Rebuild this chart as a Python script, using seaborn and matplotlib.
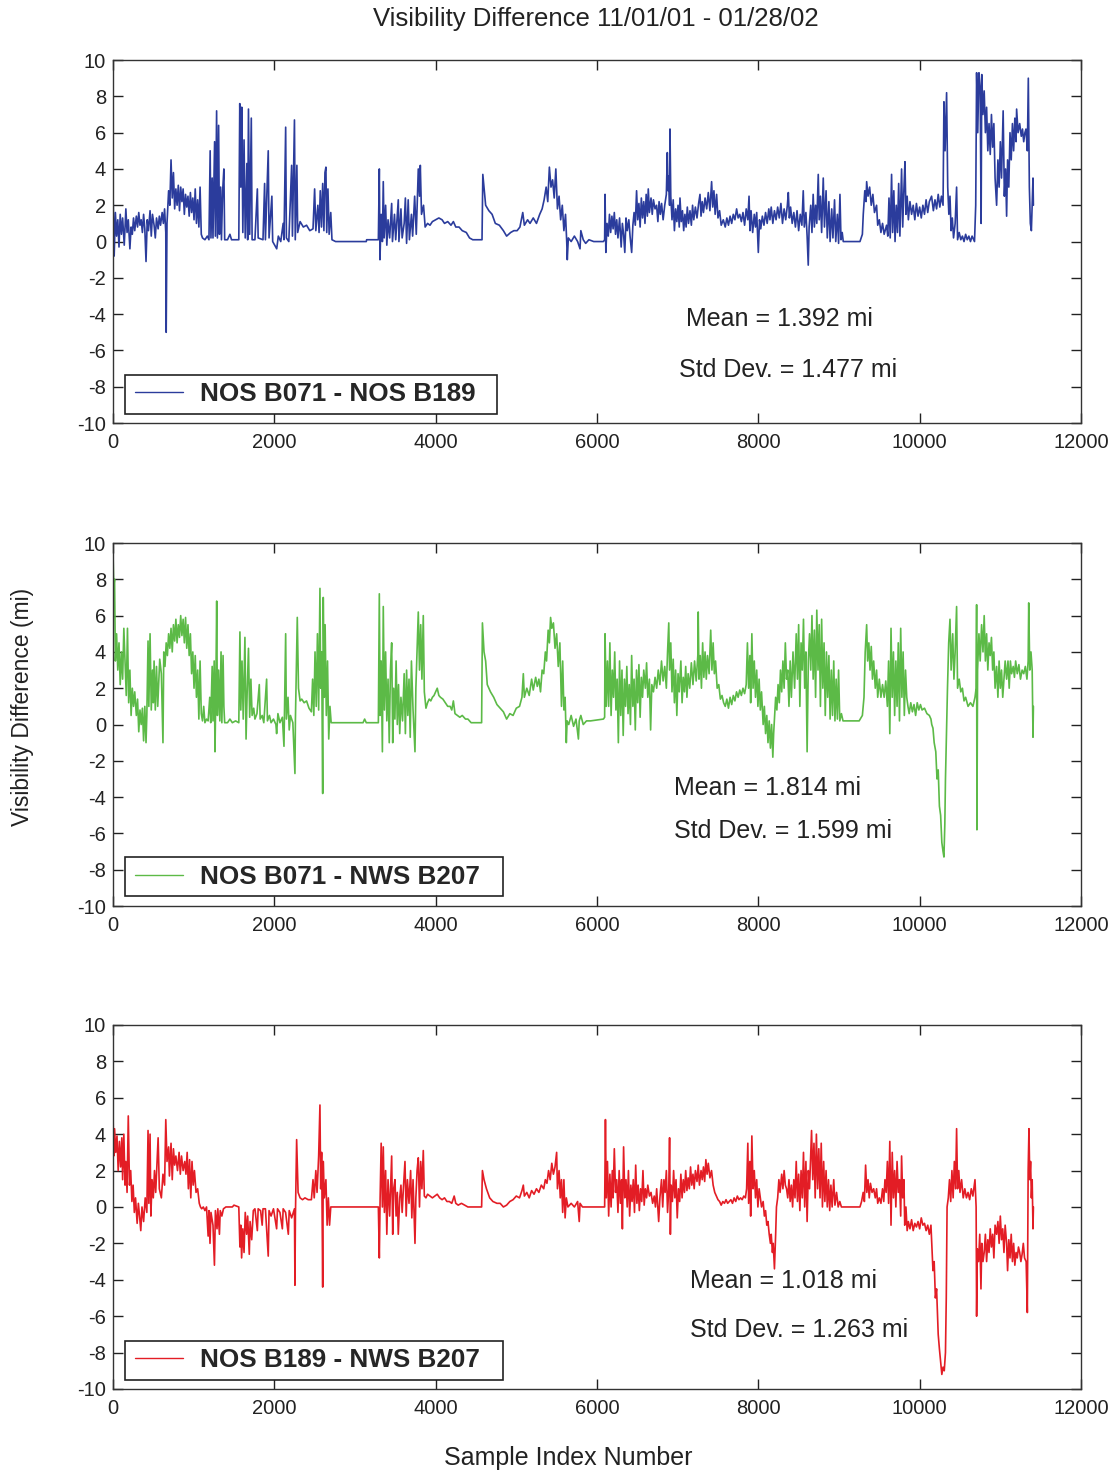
import matplotlib
matplotlib.use("Agg")
import matplotlib.pyplot as plt
from matplotlib.patches import Rectangle
import pandas as pd
import seaborn as sns

# ---- data: (sample index, visibility difference in miles) ----
b071_b189 = [
    (0, 3.0), (15, -0.8), (30, 1.6), (45, 0.3), (60, 1.2), (75, -0.3), (90, 1.5), (105, 0.4), (120, 1.3),
    (140, -0.2), (160, 1.8), (175, 0.5), (190, 1.2), (210, -0.4), (225, 0.8), (240, 0.4), (255, 1.3),
    (270, 0.6), (290, 1.4), (305, 0.8), (320, 1.6), (335, 0.9), (350, 1.2), (365, 0.5), (380, 1.5),
    (395, 0.7), (410, -1.1), (425, 1.2), (440, 0.6), (460, 1.7), (475, 0.3), (490, 1.5), (510, 0.9),
    (525, 0.2), (540, 1.3), (560, 0.7), (575, 1.4), (590, 0.9), (610, 1.6), (625, 1.0), (640, 1.8),
    (655, 0.5), (660, -5.0), (670, 1.0), (690, 2.8), (705, 2.0), (720, 4.5), (735, 2.4), (750, 3.8),
    (765, 1.8), (780, 2.9), (795, 2.0), (810, 3.1), (825, 1.7), (840, 3.0), (855, 2.2), (870, 2.9),
    (885, 1.5), (900, 2.6), (915, 1.9), (930, 2.5), (945, 1.4), (960, 2.7), (975, 1.6), (990, 2.4),
    (1005, 1.2), (1020, 2.9), (1035, 1.0), (1050, 2.3), (1065, 0.8), (1080, 3.0), (1095, 0.4),
    (1110, 0.2), (1140, 0.1), (1170, 0.3), (1190, 0.1), (1205, 5.0), (1215, 0.2), (1230, 3.5),
    (1240, 0.2), (1260, 5.5), (1270, 0.3), (1285, 7.2), (1295, 0.2), (1310, 6.4), (1320, 0.4),
    (1335, 3.0), (1345, 0.1), (1360, 2.8), (1375, 4.0), (1385, 0.1), (1420, 0.1), (1450, 0.4),
    (1470, 0.1), (1560, 0.1), (1572, 7.6), (1585, 3.0), (1597, 7.4), (1610, 0.5), (1625, 5.6),
    (1640, 0.2), (1660, 4.3), (1670, 0.1), (1680, 7.3), (1695, 0.4), (1715, 6.8), (1725, 0.1),
    (1760, 0.1), (1790, 2.9), (1800, 0.2), (1860, 0.1), (1880, 3.2), (1890, 0.1), (1925, 5.0),
    (1935, 0.2), (1970, 2.5), (1980, 0.0), (2030, -0.4), (2050, 0.3), (2080, 0.0), (2110, 1.0),
    (2120, 0.1), (2141, 6.3), (2150, 0.2), (2180, 0.0), (2215, 4.2), (2225, 0.3), (2250, 6.7),
    (2260, 0.1), (2280, 4.2), (2290, 0.5), (2320, 1.1), (2360, 0.8), (2400, 0.9), (2440, 0.6),
    (2480, 0.7), (2500, 2.9), (2515, 0.6), (2540, 2.0), (2555, 0.5), (2570, 2.8), (2585, 0.8),
    (2600, 3.2), (2615, 0.6), (2628, 3.8), (2640, 4.1), (2650, 0.5), (2665, 2.9), (2680, 0.4),
    (2700, 1.6), (2715, 0.1), (2760, 0.0), (3140, 0.0), (3145, 0.1), (3290, 0.1), (3302, 4.0),
    (3310, -1.0), (3325, 1.5), (3340, 0.0), (3351, 3.3), (3362, 0.2), (3380, 2.0), (3395, -0.2),
    (3410, 1.2), (3430, 0.2), (3455, 2.1), (3465, 0.0), (3490, 1.5), (3505, 0.1), (3537, 2.3),
    (3545, 0.0), (3570, 1.8), (3585, 0.2), (3610, 1.0), (3625, 2.4), (3640, -0.1), (3660, 2.3),
    (3675, 0.1), (3700, 1.5), (3715, 0.3), (3740, 2.5), (3760, 0.4), (3785, 4.0), (3800, 2.5),
    (3810, 4.2), (3825, 1.5), (3850, 2.0), (3870, 0.8), (3900, 1.0), (3930, 0.9), (3960, 1.1),
    (4000, 1.2), (4040, 1.3), (4080, 1.2), (4110, 1.0), (4150, 1.1), (4190, 0.9), (4220, 1.1),
    (4250, 0.8), (4290, 0.8), (4330, 0.6), (4380, 0.5), (4420, 0.2), (4460, 0.1), (4575, 0.1),
    (4585, 3.7), (4620, 2.0), (4660, 1.7), (4700, 1.5), (4740, 1.0), (4790, 0.9), (4840, 0.6),
    (4880, 0.3), (4930, 0.5), (4970, 0.6), (5010, 0.6), (5045, 0.8), (5080, 1.6), (5100, 0.9),
    (5140, 1.2), (5170, 1.0), (5210, 1.3), (5250, 1.0), (5290, 1.5), (5320, 1.8), (5345, 2.3),
    (5370, 3.0), (5390, 2.2), (5410, 4.1), (5430, 3.0), (5450, 3.4), (5470, 2.4), (5490, 4.0),
    (5510, 1.8), (5530, 2.5), (5550, 1.2), (5570, 2.0), (5590, 0.6), (5610, 1.5), (5625, 0.0),
    (5632, -1.0), (5645, 0.2), (5680, 0.0), (5720, 0.3), (5760, 0.0), (5790, -0.4), (5800, 0.6),
    (5830, 0.1), (5860, -0.1), (5900, 0.1), (5960, 0.0), (6080, 0.0),
    (6095, 0.1), (6100, 2.6), (6110, -0.6), (6125, 1.0), (6140, 0.3), (6155, 1.5), (6170, 0.5),
    (6185, 1.4), (6200, 0.7), (6215, 1.6), (6230, 0.4), (6245, 1.2), (6260, 0.2), (6280, 1.3),
    (6300, -0.3), (6315, 1.0), (6330, 0.4), (6345, -0.6), (6360, 1.3), (6375, 0.6), (6395, 1.2),
    (6410, 0.3), (6430, -0.6), (6445, 0.9), (6460, 1.6), (6475, 0.9), (6491, 2.8), (6505, 1.2),
    (6520, 2.1), (6535, 0.8), (6550, 2.4), (6565, 1.3), (6580, 2.2), (6595, 1.0), (6610, 2.6),
    (6625, 1.4), (6636, 2.9), (6650, 1.6), (6670, 2.4), (6685, 1.5), (6700, 2.3), (6720, 1.8),
    (6739, 2.0), (6755, 1.1), (6770, 2.2), (6785, 1.5), (6801, 2.1), (6820, 1.2), (6840, 2.0),
    (6860, 2.6), (6872, 4.9), (6880, 2.8), (6890, 3.6), (6900, 2.0), (6905, 6.2), (6915, 2.5),
    (6930, 1.2), (6945, 2.3), (6960, 0.6), (6975, 1.8), (6990, 1.1), (7005, 2.0), (7020, 0.8),
    (7029, 2.4), (7045, 1.1), (7060, 1.7), (7075, 0.6), (7090, 1.5), (7105, 0.8), (7120, 1.9),
    (7135, 1.0), (7153, 1.7), (7170, 0.9), (7185, 2.0), (7200, 1.2), (7220, 1.9), (7240, 1.3),
    (7260, 2.1), (7277, 2.6), (7290, 1.4), (7305, 2.2), (7320, 1.6), (7340, 2.4), (7360, 1.8),
    (7380, 2.7), (7400, 1.7), (7421, 3.3), (7435, 1.9), (7450, 2.8), (7465, 1.5), (7483, 2.6),
    (7500, 1.3), (7520, 1.7), (7540, 0.9), (7566, 1.2), (7590, 0.8), (7610, 1.3), (7630, 0.9),
    (7650, 1.4), (7670, 1.0), (7690, 1.5), (7710, 1.2), (7731, 1.8), (7750, 1.3), (7770, 1.5),
    (7790, 1.1), (7810, 1.6), (7830, 0.9), (7850, 1.8), (7870, 1.2), (7885, 2.5), (7896, 0.6),
    (7910, 1.7), (7930, 0.5), (7950, 1.5), (7965, 0.8), (7980, 1.6), (8000, -0.6), (8015, 1.2),
    (8030, 0.7), (8050, 1.4), (8070, 0.9), (8090, 1.6), (8110, 1.0), (8130, 1.8), (8144, 1.2),
    (8160, 1.9), (8180, 1.0), (8200, 1.7), (8220, 1.2), (8240, 1.9), (8260, 1.3), (8280, 2.1),
    (8300, 1.0), (8320, 1.8), (8340, 1.2), (8360, 2.0), (8372, 2.7), (8385, 1.3), (8400, 1.9),
    (8420, 1.0), (8440, 1.6), (8460, 0.8), (8480, 1.7), (8500, 0.6), (8520, 1.5), (8540, 0.9),
    (8557, 2.8), (8570, 0.8), (8590, 1.6), (8605, 0.3), (8619, -1.3), (8630, 0.8), (8650, 2.0),
    (8665, 0.5), (8680, 2.6), (8695, 0.8), (8710, 2.0), (8725, 1.0), (8743, 3.7), (8755, 1.2),
    (8770, 2.5), (8785, 0.5), (8805, 3.5), (8820, 0.8), (8840, 2.8), (8855, 0.2), (8875, 2.2),
    (8890, 0.0), (8910, 1.8), (8925, 0.2), (8945, 2.3), (8960, 0.0), (8980, 1.5), (8995, -0.1),
    (9012, 2.6), (9025, 0.1), (9040, 0.5), (9053, 0.0), (9260, 0.0), (9290, 0.4), (9301, 1.5),
    (9320, 2.8), (9335, 2.2), (9343, 3.3), (9360, 2.5), (9380, 3.0), (9400, 2.0), (9420, 2.6),
    (9440, 1.6), (9466, 2.0), (9480, 0.9), (9500, 1.2), (9520, 0.5), (9540, 1.0), (9560, 0.4),
    (9590, 0.9), (9605, 0.3), (9620, 2.4), (9635, 0.2), (9652, 3.7), (9665, 0.5), (9680, 2.8),
    (9695, 0.0), (9710, 2.0), (9725, 0.5), (9740, 3.2), (9755, 0.3), (9776, 4.0), (9790, 0.8),
    (9805, 2.9), (9818, 4.4), (9830, 1.5), (9845, 2.5), (9860, 1.2), (9880, 2.2), (9900, 1.5),
    (9920, 2.0), (9940, 1.2), (9960, 2.1), (9980, 1.4), (10000, 1.9), (10020, 1.3), (10040, 2.0),
    (10060, 1.5), (10080, 2.3), (10100, 1.6), (10120, 2.2), (10148, 2.5), (10170, 1.7),
    (10190, 2.3), (10210, 1.8), (10230, 2.6), (10250, 1.9), (10270, 2.5), (10290, 2.0),
    (10301, 7.7), (10315, 5.0), (10334, 8.2), (10348, 3.0), (10362, 1.5), (10376, 2.5),
    (10390, 0.6), (10405, 1.3), (10420, 0.2), (10440, 1.0), (10458, 3.0), (10470, 0.1),
    (10490, 0.5), (10510, 0.1), (10530, 0.3), (10550, 0.0), (10570, 0.4), (10590, 0.1),
    (10610, 0.3), (10630, 0.0), (10650, 0.3), (10680, 0.0), (10695, 2.0), (10706, 9.3),
    (10720, 6.0), (10735, 9.3), (10750, 8.5), (10762, 1.0), (10770, 9.2), (10785, 7.0),
    (10800, 8.3), (10815, 6.0), (10830, 7.4), (10845, 5.0), (10860, 6.5), (10875, 4.8),
    (10890, 7.0), (10905, 5.2), (10920, 6.5), (10935, 3.5), (10954, 2.0), (10970, 4.5),
    (10985, 3.0), (11000, 5.5), (11015, 3.5), (11035, 7.2), (11050, 2.5), (11065, 4.0),
    (11078, 1.4), (11090, 4.5), (11105, 3.0), (11120, 6.0), (11135, 4.5), (11150, 6.5),
    (11165, 5.0), (11180, 6.8), (11195, 5.5), (11202, 7.3), (11220, 6.0), (11240, 6.5),
    (11260, 5.8), (11275, 6.2), (11290, 5.5), (11305, 6.0), (11318, 6.2), (11335, 5.0),
    (11347, 9.0), (11360, 3.0), (11372, 1.0), (11385, 0.6), (11395, 2.0), (11405, 3.5), (11410, 2.0),
]

b071_b207 = [
    (0, 9.6), (10, 7.6), (20, 8.0), (30, 3.5), (45, 5.0), (60, 3.0), (75, 4.5), (90, 2.2), (105, 4.0),
    (120, 2.5), (135, 5.3), (150, 3.5), (165, 1.6), (180, 5.3), (195, 1.2), (210, 3.0), (225, 0.5),
    (240, 2.0), (255, 1.0), (270, 1.8), (290, 0.5), (305, 1.4), (320, -0.4), (335, 0.8), (350, 0.0),
    (365, 0.9), (380, -0.9), (395, 1.0), (410, -1.0), (420, 0.5), (435, 4.6), (445, 1.0), (460, 5.0),
    (475, 0.8), (490, 3.0), (500, 1.2), (510, 3.5), (525, 0.8), (540, 3.2), (555, 1.0), (580, 3.6),
    (600, 2.8), (620, -1.0), (630, 4.0), (645, 3.2), (660, 4.5), (675, 3.8), (690, 5.0), (705, 4.2),
    (720, 5.3), (735, 4.0), (750, 5.5), (765, 4.6), (780, 5.8), (795, 4.5), (810, 5.5), (825, 4.8),
    (840, 6.0), (855, 4.9), (870, 5.8), (885, 4.5), (900, 5.9), (915, 4.2), (930, 5.5), (945, 3.8),
    (960, 5.0), (975, 2.8), (990, 4.0), (1005, 2.0), (1020, 3.8), (1035, 1.5), (1050, 3.0),
    (1065, 0.3), (1080, 3.5), (1095, 0.6), (1110, 0.2), (1125, 1.0), (1140, 0.1), (1160, 0.3),
    (1180, 0.2), (1200, 1.5), (1212, 0.1), (1230, 3.2), (1240, 0.2), (1255, 3.5), (1265, -1.5),
    (1275, 1.8), (1286, 6.8), (1295, 0.5), (1310, 3.0), (1325, 0.2), (1340, 4.0), (1350, 0.1),
    (1365, 3.8), (1375, 1.0), (1385, 0.1), (1420, 0.1), (1450, 0.3), (1480, 0.1), (1520, 0.2),
    (1560, 0.1), (1574, 5.1), (1585, 0.8), (1600, 3.5), (1615, 0.3), (1636, 4.8), (1650, -0.8),
    (1665, 2.0), (1680, 4.2), (1695, 0.4), (1710, 2.5), (1725, 0.5), (1745, 0.9), (1760, 0.3),
    (1785, 0.6), (1814, 2.2), (1825, 0.3), (1850, 0.5), (1870, 0.1), (1905, 2.5), (1915, 0.2),
    (1940, 0.5), (1960, 0.1), (1990, 0.3), (2020, 0.0), (2029, -0.5), (2045, 0.6), (2070, 0.1),
    (2100, 0.4), (2120, -1.2), (2125, 0.2), (2141, 5.0), (2150, 0.3), (2170, 1.5), (2185, -0.3),
    (2200, 0.5), (2230, 0.1), (2256, -2.7), (2262, 0.3), (2285, 5.9), (2300, 2.0), (2320, 1.3),
    (2340, 1.4), (2370, 1.2), (2400, 1.3), (2430, 0.9), (2460, 0.7), (2475, 2.5), (2490, 0.5),
    (2505, 4.0), (2520, 1.0), (2535, 5.0), (2550, 0.8), (2566, 7.5), (2575, 2.0), (2587, 4.0),
    (2600, -3.8), (2607, 7.0), (2620, 1.5), (2630, 5.5), (2645, 0.5), (2660, 3.5), (2675, -0.8),
    (2690, 1.0), (2705, 0.1), (3100, 0.1), (3120, 0.3), (3140, 0.1), (3290, 0.1), (3302, 7.2),
    (3312, 0.5), (3325, 3.5), (3340, -1.5), (3351, 6.5), (3365, 0.8), (3380, 4.0), (3395, 0.2),
    (3410, 2.5), (3425, -1.0), (3440, 3.0), (3455, 4.5), (3468, -1.0), (3480, 2.0), (3495, 0.3),
    (3510, 3.5), (3525, 0.0), (3540, 2.2), (3555, -0.5), (3570, 1.5), (3590, 0.2), (3610, 2.8),
    (3625, -0.5), (3640, 3.0), (3655, 0.5), (3670, 2.5), (3685, -0.7), (3700, 3.5), (3720, 0.8),
    (3744, -1.5), (3755, 2.0), (3785, 6.2), (3800, 3.0), (3815, 5.5), (3830, 2.5), (3847, 6.0),
    (3860, 1.8), (3880, 0.9), (3900, 1.2), (3920, 1.4), (3940, 1.3), (3960, 1.5), (3980, 1.6),
    (4000, 1.8), (4020, 2.0), (4040, 1.6), (4060, 1.5), (4090, 1.4), (4120, 1.2), (4150, 1.0),
    (4180, 1.0), (4200, 0.8), (4220, 1.3), (4240, 0.6), (4270, 0.5), (4300, 0.4), (4330, 0.5),
    (4370, 0.3), (4400, 0.3), (4440, 0.1), (4570, 0.1), (4580, 5.6), (4600, 4.0), (4620, 3.5),
    (4640, 2.2), (4680, 1.8), (4720, 1.5), (4760, 1.1), (4800, 0.9), (4840, 0.7), (4880, 0.3),
    (4920, 0.6), (4960, 0.5), (5000, 0.9), (5040, 1.0), (5070, 1.5), (5087, 2.8), (5100, 1.5),
    (5130, 2.0), (5160, 1.6), (5190, 2.5), (5210, 1.9), (5240, 2.6), (5260, 2.1), (5280, 2.5),
    (5300, 1.8), (5320, 3.0), (5340, 2.8), (5360, 4.0), (5375, 3.5), (5395, 5.2), (5410, 4.5),
    (5425, 5.9), (5440, 5.3), (5460, 5.6), (5480, 4.2), (5500, 5.0), (5520, 3.2), (5540, 4.5),
    (5560, 1.0), (5575, 3.5), (5590, 0.8), (5605, 1.5), (5620, -1.0), (5630, 0.2), (5650, 0.0),
    (5680, 0.5), (5710, -0.1), (5740, 0.3), (5770, -0.8), (5780, 0.2), (5800, 0.5), (5830, 0.0),
    (5870, 0.2), (5920, 0.2), (6080, 0.3),
    (6095, 0.4), (6100, 5.0), (6115, 1.0), (6130, 3.5), (6145, 1.0), (6160, 4.5), (6175, 0.5),
    (6190, 3.0), (6205, 1.5), (6220, 4.0), (6235, 0.8), (6250, 2.5), (6265, -1.0), (6280, 3.5),
    (6295, 0.5), (6310, 3.0), (6325, -0.6), (6340, 2.5), (6355, 1.0), (6370, 3.2), (6385, 0.6),
    (6400, 2.2), (6415, 0.0), (6430, 3.8), (6445, 1.0), (6460, 2.5), (6475, -0.3), (6490, 3.0),
    (6505, 1.2), (6520, 3.3), (6535, 0.4), (6550, 2.6), (6565, 1.5), (6580, 3.0), (6600, 2.0),
    (6615, 3.4), (6630, 1.5), (6650, 2.5), (6665, -0.3), (6680, 2.2), (6700, 1.8), (6720, 2.6),
    (6740, 2.0), (6760, 3.0), (6780, 2.2), (6800, 3.5), (6820, 2.4), (6840, 3.2), (6860, 2.0),
    (6875, 4.0), (6890, 5.6), (6900, 3.0), (6915, 4.5), (6930, 1.8), (6945, 3.6), (6960, 1.2),
    (6975, 3.0), (6990, 0.5), (7005, 2.8), (7020, 1.8), (7040, 3.5), (7055, 1.2), (7070, 2.6),
    (7085, 1.8), (7100, 3.2), (7115, 1.5), (7130, 2.8), (7150, 2.0), (7170, 3.4), (7190, 2.2),
    (7210, 3.5), (7230, 2.4), (7250, 3.8), (7255, 6.2), (7265, 2.5), (7280, 3.8), (7295, 2.0),
    (7310, 4.5), (7325, 2.6), (7340, 4.0), (7355, 2.5), (7370, 3.8), (7390, 2.8), (7410, 5.2),
    (7425, 3.0), (7440, 4.5), (7455, 2.8), (7470, 3.5), (7490, 2.0), (7510, 2.2), (7530, 1.4),
    (7550, 1.6), (7570, 1.2), (7590, 1.0), (7610, 1.4), (7630, 0.9), (7650, 1.5), (7670, 1.1),
    (7690, 1.6), (7710, 1.3), (7730, 1.8), (7750, 1.5), (7770, 1.9), (7790, 1.6), (7810, 2.0),
    (7830, 1.7), (7850, 2.2), (7865, 4.5), (7880, 2.0), (7895, 3.8), (7905, 1.2), (7920, 5.0),
    (7935, 2.0), (7950, 3.5), (7965, 1.5), (7980, 3.0), (7995, 1.0), (8010, 2.5), (8025, 0.8),
    (8040, 1.8), (8060, 0.0), (8075, 1.0), (8090, -0.5), (8105, 0.5), (8120, -1.0), (8135, 0.2),
    (8150, -1.3), (8165, 0.0), (8180, -1.8), (8190, -0.5), (8200, 0.3), (8215, 1.5), (8230, 0.8),
    (8245, 2.2), (8260, 1.2), (8275, 3.0), (8290, 1.8), (8305, 3.5), (8320, 2.0), (8335, 4.5),
    (8350, 2.5), (8365, 3.0), (8380, 1.0), (8395, 3.5), (8410, 1.5), (8430, 4.0), (8450, 2.0),
    (8470, 5.0), (8485, 2.5), (8500, 5.5), (8515, 1.0), (8530, 4.5), (8545, 3.0), (8560, 5.8),
    (8575, 2.0), (8590, 4.0), (8605, -1.5), (8620, 3.5), (8635, 5.0), (8650, 3.0), (8665, 6.0),
    (8680, 2.5), (8695, 5.2), (8710, 1.5), (8725, 6.3), (8740, 3.0), (8755, 5.5), (8770, 1.0),
    (8785, 5.8), (8800, 2.0), (8815, 4.5), (8830, 0.5), (8845, 4.0), (8860, 1.5), (8875, 3.8),
    (8890, 0.3), (8905, 3.0), (8920, 0.5), (8935, 3.5), (8950, 0.2), (8965, 2.5), (8980, 0.3),
    (8995, 3.0), (9010, 0.2), (9030, 0.6), (9050, 0.2), (9250, 0.2), (9290, 0.5), (9310, 1.5),
    (9325, 4.0), (9343, 5.5), (9355, 3.5), (9370, 4.5), (9385, 3.0), (9400, 4.3), (9415, 2.5),
    (9430, 3.5), (9450, 2.0), (9466, 3.0), (9480, 1.5), (9500, 2.5), (9520, 1.5), (9540, 2.2),
    (9560, 1.5), (9580, 2.4), (9600, 1.0), (9615, 3.5), (9630, -0.5), (9645, 5.3), (9660, 1.5),
    (9675, 4.0), (9690, 0.5), (9705, 3.5), (9720, 1.0), (9735, 4.5), (9750, 0.2), (9765, 5.3),
    (9780, 1.5), (9795, 4.0), (9810, 0.5), (9825, 3.0), (9840, 1.5), (9855, 1.0), (9870, 0.6),
    (9890, 1.2), (9910, 0.7), (9930, 1.1), (9950, 0.5), (9970, 1.2), (9990, 0.8), (10010, 1.1),
    (10030, 0.8), (10060, 0.9), (10090, 0.6), (10120, 0.5), (10140, 0.3), (10150, 0.0),
    (10165, -0.2), (10180, -1.0), (10200, -1.5), (10215, -3.0), (10230, -2.5), (10245, -4.5),
    (10260, -5.0), (10275, -6.5), (10290, -7.0), (10301, -7.3), (10312, -5.5), (10320, -3.0),
    (10330, -1.0), (10345, 2.0), (10360, 4.5), (10376, 5.8), (10390, 3.0), (10410, 5.0),
    (10425, 2.5), (10440, 4.0), (10458, 6.5), (10470, 2.0), (10490, 2.5), (10510, 1.8),
    (10530, 2.0), (10550, 1.3), (10570, 1.5), (10600, 1.0), (10630, 1.2), (10660, 1.0),
    (10686, 1.5), (10700, 2.0), (10706, 6.6), (10710, -5.8), (10718, 3.0), (10735, 5.0),
    (10750, 3.5), (10768, 5.5), (10785, 4.0), (10800, 6.0), (10815, 3.5), (10830, 5.0),
    (10845, 3.0), (10860, 4.5), (10875, 3.8), (10890, 4.8), (10905, 3.0), (10920, 4.0),
    (10935, 2.0), (10954, 3.2), (10970, 1.5), (10985, 3.5), (11000, 2.0), (11015, 3.0),
    (11030, 1.5), (11045, 2.5), (11060, 3.5), (11078, 2.5), (11095, 3.5), (11110, 2.0),
    (11125, 3.5), (11140, 2.8), (11160, 3.2), (11175, 2.6), (11190, 3.5), (11210, 2.8),
    (11230, 3.3), (11250, 2.5), (11270, 3.0), (11290, 2.8), (11310, 3.2), (11330, 2.5),
    (11345, 3.5), (11352, 6.7), (11365, 3.0), (11380, 4.0), (11395, 3.0), (11405, -0.7), (11410, 1.0),
]

b189_b207 = [
    (0, 5.3), (10, 2.8), (20, 4.3), (35, 3.0), (50, 3.9), (65, 2.0), (80, 3.6), (95, 2.2), (110, 3.8),
    (120, 1.5), (135, 4.0), (150, 1.2), (160, 2.5), (175, 0.8), (190, 5.0), (205, 1.2), (220, 2.0),
    (235, 0.3), (250, 1.2), (265, -0.3), (280, 0.5), (300, -0.9), (315, 0.2), (330, -0.5),
    (345, -1.3), (360, 0.0), (380, -0.8), (400, 0.5), (420, -0.3), (435, 4.2), (445, 0.2),
    (460, 4.0), (470, -0.5), (485, 1.5), (500, 0.5), (515, 2.0), (530, 0.8), (560, 3.8), (575, 1.0),
    (600, 0.5), (620, 1.8), (640, 1.2), (655, 4.8), (670, 2.5), (690, 3.3), (700, 1.7), (720, 3.5),
    (735, 1.5), (750, 3.2), (765, 2.3), (780, 2.8), (800, 2.0), (820, 3.0), (835, 1.8), (850, 2.8),
    (870, 2.0), (890, 2.5), (905, 1.8), (920, 3.0), (935, 1.0), (950, 2.6), (965, 0.5), (980, 2.5),
    (995, 1.2), (1010, 2.0), (1030, 0.8), (1050, 1.0), (1070, 0.2), (1085, 0.0), (1100, -0.1),
    (1120, 0.0), (1140, -0.2), (1160, 0.0), (1180, -1.6), (1190, -0.2), (1203, -2.0), (1215, -0.3),
    (1240, -1.0), (1258, -3.2), (1270, -0.2), (1290, -1.2), (1300, -0.1), (1320, -1.5),
    (1330, -0.2), (1350, -0.5), (1370, -0.1), (1400, 0.0), (1480, 0.0), (1500, 0.1), (1560, 0.0),
    (1574, -2.2), (1585, -1.0), (1595, -2.8), (1610, -1.2), (1625, -2.5), (1640, -0.3),
    (1657, -1.5), (1670, -0.5), (1690, -2.6), (1700, -0.8), (1720, -1.8), (1740, -0.2),
    (1760, -0.1), (1790, -1.3), (1800, -0.1), (1830, -0.2), (1850, -1.0), (1860, -0.1),
    (1890, -0.1), (1925, -2.7), (1935, -0.2), (1960, -0.5), (1990, -0.1), (2029, -1.2),
    (2040, -0.1), (2070, -0.3), (2100, -1.2), (2110, -0.1), (2140, -0.3), (2174, -1.5),
    (2185, -0.2), (2215, -0.6), (2250, -0.1), (2256, -4.3), (2262, -0.5), (2277, 3.7), (2295, 0.8),
    (2320, 0.5), (2350, 0.4), (2380, 0.5), (2420, 0.4), (2460, 0.4), (2480, 1.5), (2495, 0.5),
    (2515, 2.0), (2530, 0.8), (2550, 2.8), (2566, 5.6), (2575, 1.0), (2587, 3.0), (2600, -4.4),
    (2607, 2.5), (2620, 0.5), (2640, 1.5), (2655, -1.0), (2670, 0.5), (2685, -1.0), (2700, 0.0),
    (3290, 0.0), (3302, -2.8), (3312, 0.5), (3325, 3.5), (3340, 0.0), (3351, 3.3), (3365, -0.3),
    (3380, 2.0), (3395, -1.5), (3410, 1.5), (3430, -0.5), (3455, 2.8), (3468, -1.5), (3480, 1.0),
    (3496, 1.5), (3510, -0.5), (3525, 0.8), (3537, -1.5), (3555, 0.5), (3570, 1.2), (3585, -0.3),
    (3600, 1.0), (3620, 2.5), (3635, -0.5), (3650, 1.5), (3670, 0.2), (3690, 2.0), (3705, -0.6),
    (3720, 1.5), (3744, -2.0), (3755, 0.5), (3770, 2.0), (3785, 2.7), (3800, 0.0), (3815, 2.5),
    (3830, 1.0), (3847, 3.1), (3860, 0.6), (3880, 0.5), (3900, 0.7), (3930, 0.6), (3960, 0.5),
    (3990, 0.6), (4020, 0.7), (4050, 0.5), (4080, 0.4), (4110, 0.5), (4140, 0.3), (4170, 0.3),
    (4200, 0.2), (4230, 0.6), (4250, 0.2), (4280, 0.1), (4320, 0.2), (4360, 0.1), (4400, 0.0),
    (4570, 0.0), (4580, 2.0), (4600, 1.5), (4630, 1.0), (4670, 0.5), (4710, 0.3), (4760, 0.2),
    (4800, 0.2), (4840, 0.0), (4880, 0.1), (4920, 0.3), (4960, 0.4), (5000, 0.6), (5040, 0.5),
    (5070, 0.9), (5087, 1.2), (5100, 0.6), (5130, 0.8), (5160, 0.5), (5190, 0.9), (5220, 0.7),
    (5250, 1.0), (5280, 0.8), (5310, 1.2), (5340, 1.0), (5360, 1.5), (5380, 1.3), (5400, 2.0),
    (5420, 1.5), (5440, 2.4), (5460, 1.8), (5480, 2.2), (5500, 3.0), (5510, 1.0), (5530, 2.0),
    (5545, 0.5), (5560, 1.5), (5575, -0.3), (5590, 1.5), (5605, -0.6), (5620, 0.5), (5640, 0.0),
    (5680, 0.2), (5720, 0.0), (5760, 0.3), (5780, -0.8), (5790, 0.2), (5820, 0.0), (5860, 0.0),
    (6080, 0.0),
    (6095, 0.0), (6105, 4.8), (6115, 0.5), (6130, 2.5), (6145, -0.5), (6160, 1.8), (6175, 0.0),
    (6190, 2.0), (6200, 0.5), (6215, 3.2), (6230, 0.8), (6245, 1.5), (6260, -0.3), (6275, 2.0),
    (6290, 0.2), (6305, 1.5), (6315, -1.2), (6330, 3.3), (6345, 0.5), (6360, 1.5), (6375, 0.0),
    (6390, 2.0), (6405, -0.5), (6420, 1.2), (6435, 0.3), (6450, 1.5), (6465, -0.3), (6480, 2.3),
    (6495, 0.2), (6510, 1.2), (6525, -0.2), (6540, 1.0), (6555, 0.3), (6570, 2.0), (6585, 0.1),
    (6600, 1.0), (6615, 0.5), (6630, 1.2), (6650, 0.6), (6670, 0.8), (6690, 0.2), (6710, 0.6),
    (6725, 0.0), (6740, 1.0), (6765, -0.8), (6780, 0.5), (6800, 1.5), (6815, 0.0), (6830, 1.5),
    (6845, 0.8), (6860, 2.0), (6875, -0.3), (6890, 1.0), (6900, 3.8), (6910, -1.5), (6920, 1.2),
    (6935, 0.3), (6950, 2.0), (6965, 0.5), (6980, 1.5), (6995, -0.6), (7010, 1.0), (7025, 0.3),
    (7040, 1.8), (7055, 0.5), (7070, 1.5), (7085, 0.8), (7100, 2.0), (7115, 0.9), (7130, 1.6),
    (7145, 1.0), (7160, 2.2), (7175, 1.2), (7190, 1.8), (7205, 1.0), (7220, 2.0), (7240, 1.4),
    (7255, 2.3), (7270, 1.2), (7290, 2.0), (7305, 1.5), (7320, 2.2), (7335, 1.4), (7350, 2.6),
    (7365, 1.8), (7380, 2.4), (7400, 1.6), (7420, 2.0), (7440, 1.2), (7460, 0.8), (7480, 0.6),
    (7500, 0.4), (7520, 0.3), (7540, 0.1), (7560, 0.3), (7580, 0.2), (7600, 0.4), (7620, 0.2),
    (7640, 0.3), (7660, 0.4), (7680, 0.2), (7700, 0.5), (7720, 0.3), (7740, 0.6), (7760, 0.4),
    (7780, 0.5), (7800, 0.4), (7820, 0.6), (7840, 0.5), (7855, 1.0), (7870, 3.5), (7880, 0.2),
    (7895, 2.5), (7905, -0.5), (7920, 3.9), (7935, 1.0), (7950, 2.0), (7965, 0.5), (7980, 1.5),
    (7995, 0.0), (8010, 1.0), (8025, 0.5), (8040, 0.0), (8060, 0.3), (8075, -0.5), (8090, -0.2),
    (8105, -1.0), (8120, -0.8), (8135, -1.5), (8150, -2.0), (8160, -1.5), (8175, -2.5),
    (8185, -2.0), (8200, -3.4), (8215, -1.5), (8225, 0.0), (8240, 0.5), (8255, 1.5), (8270, 0.8),
    (8290, 1.8), (8305, 1.0), (8320, 2.0), (8335, 1.2), (8350, 1.0), (8365, 0.5), (8380, 1.5),
    (8395, 0.3), (8410, 1.2), (8425, 0.0), (8440, 1.5), (8455, 0.5), (8470, 2.5), (8485, 0.3),
    (8500, 1.8), (8515, -0.2), (8530, 2.0), (8545, 0.5), (8560, 3.0), (8575, 0.0), (8590, 2.5),
    (8605, -0.8), (8620, 2.0), (8635, 1.0), (8660, 4.2), (8675, 1.5), (8690, 3.5), (8705, 0.5),
    (8720, 4.0), (8735, 1.0), (8750, 3.2), (8765, 0.5), (8780, 3.5), (8795, 0.0), (8810, 2.5),
    (8825, 0.3), (8840, 2.0), (8855, 0.0), (8870, 1.5), (8885, -0.2), (8900, 1.2), (8915, 0.0),
    (8935, 1.5), (8950, 0.1), (8970, 0.8), (8990, 0.0), (9010, 0.3), (9030, 0.0), (9260, 0.0),
    (9280, 0.3), (9300, 0.8), (9315, 0.3), (9330, 2.3), (9345, 0.8), (9360, 1.5), (9375, 0.5),
    (9390, 1.3), (9410, 0.8), (9430, 1.0), (9450, 0.5), (9466, 1.0), (9480, 0.2), (9500, 0.5),
    (9520, 0.2), (9540, 1.0), (9555, 0.3), (9570, 1.5), (9585, 0.8), (9600, 2.5), (9615, 0.2),
    (9630, 3.6), (9645, -1.0), (9660, 3.0), (9675, 0.5), (9690, 2.0), (9705, 0.0), (9720, 2.5),
    (9735, 0.8), (9750, 1.5), (9765, -0.5), (9776, 2.8), (9790, 0.5), (9805, 1.5), (9815, -1.0),
    (9830, 0.0), (9845, -1.3), (9860, -0.8), (9880, -1.2), (9900, -0.7), (9920, -1.3),
    (9940, -0.9), (9960, -1.1), (9980, -0.8), (10000, -1.2), (10020, -0.6), (10040, -1.0),
    (10060, -0.9), (10080, -1.3), (10100, -1.0), (10120, -1.5), (10140, -1.0), (10150, -2.0),
    (10165, -3.5), (10180, -3.0), (10195, -5.0), (10210, -4.5), (10230, -7.0), (10245, -7.8),
    (10260, -8.5), (10275, -9.2), (10290, -8.8), (10305, -9.0), (10320, -8.0), (10330, -5.0),
    (10340, 0.0), (10355, 0.5), (10370, 1.5), (10385, 0.3), (10400, 2.0), (10415, 0.5),
    (10430, 2.5), (10445, 1.0), (10458, 4.3), (10470, 1.0), (10485, 2.0), (10500, 0.8),
    (10520, 1.5), (10540, 0.5), (10560, 1.0), (10580, 0.5), (10600, 0.8), (10620, 0.4),
    (10640, 1.0), (10660, 0.6), (10686, 1.5), (10700, 0.0), (10706, -6.0), (10715, -2.3),
    (10730, -3.0), (10745, -1.5), (10760, -4.5), (10770, -2.0), (10785, -3.0), (10800, -2.5),
    (10815, -1.5), (10830, -3.0), (10845, -1.8), (10860, -2.5), (10875, -1.2), (10890, -2.2),
    (10905, -1.5), (10920, -2.8), (10935, -1.0), (10954, -1.5), (10970, -0.8), (10985, -2.0),
    (11000, -0.5), (11015, -1.8), (11030, -1.2), (11045, -2.5), (11060, -1.0), (11078, -2.0),
    (11090, -3.5), (11105, -1.8), (11120, -2.8), (11135, -1.5), (11150, -3.0), (11165, -2.0),
    (11180, -3.2), (11195, -2.5), (11210, -2.8), (11225, -2.2), (11240, -2.5), (11255, -3.0),
    (11270, -2.6), (11285, -2.0), (11300, -2.8), (11320, -3.0), (11335, -5.8), (11345, 2.0),
    (11355, 4.3), (11365, 1.5), (11375, 2.5), (11385, 0.5), (11395, 1.5), (11405, -1.2), (11410, 0.0),
]

pair_labels = ["NOS B071 - NOS B189", "NOS B071 - NWS B207", "NOS B189 - NWS B207"]
pair_means = [1.392, 1.814, 1.018]
pair_stds = [1.477, 1.599, 1.263]
x_ticks = [0, 2000, 4000, 6000, 8000, 10000, 12000]
y_ticks = [-10, -8, -6, -4, -2, 0, 2, 4, 6, 8, 10]

# ---- styling ----
sns.set_theme(style="ticks")
plt.rcParams["font.family"] = ["Liberation Sans", "DejaVu Sans"]
plt.rcParams["axes.unicode_minus"] = False

line_colors = ["#2b3c9c", "#5cba47", "#e31d25"]
stat_pos = [((7100, -4.27), (7016, -7.08)),
            ((6954, -3.5), (6954, -5.87)),
            ((7153, -4.07), (7153, -6.76))]
# legend box in axes fractions: (left, bottom, width, height)
legend_boxes = [(0.0124, 0.025, 0.3843, 0.1074),
                (0.0124, 0.027, 0.3905, 0.1074),
                (0.0124, 0.025, 0.3905, 0.1074)]

fig = plt.figure(figsize=(11.15, 14.72), dpi=100)
axes_rects = [
    [0.1013, 0.7126, 0.8682, 0.2466],
    [0.1013, 0.3845, 0.8682, 0.2466],
    [0.1013, 0.0564, 0.8682, 0.2473],
]

series = [b071_b189, b071_b207, b189_b207]
for i, pts in enumerate(series):
    ax = fig.add_axes(axes_rects[i])
    df = pd.DataFrame(pts, columns=["sample", "diff"])
    df["pair"] = pair_labels[i]
    sns.lineplot(data=df, x="sample", y="diff", hue="pair", palette=[line_colors[i]],
                 estimator=None, sort=False, linewidth=1.2, ax=ax)
    ax.set_xlim(0, 12000)
    ax.set_ylim(-10, 10)
    ax.set_xticks(x_ticks)
    ax.set_yticks(y_ticks)
    ax.set_xticklabels([str(t) for t in x_ticks])
    ax.set_yticklabels([str(t) for t in y_ticks])
    ax.set_xlabel("")
    ax.set_ylabel("")
    ax.tick_params(direction="in", length=7, width=1.0, top=True, right=True,
                   labelsize=14.5, colors="#222222")
    ax.tick_params(axis="x", pad=7)
    ax.tick_params(axis="y", pad=5)
    for sp in ax.spines.values():
        sp.set_visible(True)
        sp.set_color("#333333")
        sp.set_linewidth(1.0)

    # legend entries without their own frame; a plain rectangle serves as the box
    bx, by, bw, bh = legend_boxes[i]
    ax.add_patch(Rectangle((bx, by), bw, bh, transform=ax.transAxes, facecolor="white",
                           edgecolor="#222222", linewidth=1.2, zorder=4))
    leg = ax.legend(loc="center left", bbox_to_anchor=(0.0225, by + bh / 2), borderaxespad=0,
                    frameon=False, handlelength=1.85, handletextpad=0.65, borderpad=0.0,
                    prop={"weight": "bold", "size": 18.8})
    leg.set_zorder(5)
    for h in leg.get_lines():
        h.set_linewidth(1.0)

    (mx, my), (sx, sy) = stat_pos[i]
    ax.text(mx, my, f"Mean = {pair_means[i]:.3f} mi", fontsize=18, color="#222222", va="center")
    ax.text(sx, sy, f"Std Dev. = {pair_stds[i]:.3f} mi", fontsize=18, color="#222222", va="center")

fig.text(0.5345, 0.987, "Visibility Difference 11/01/01 - 01/28/02", ha="center", va="center",
         fontsize=18.5, color="#222222")
fig.text(0.02, 0.5197, "Visibility Difference (mi)", rotation=90, ha="center", va="center",
         fontsize=16.5, color="#222222")
fig.text(0.510, 0.0095, "Sample Index Number", ha="center", va="center",
         fontsize=18, color="#222222")

fig.savefig("out.png", dpi=100)
